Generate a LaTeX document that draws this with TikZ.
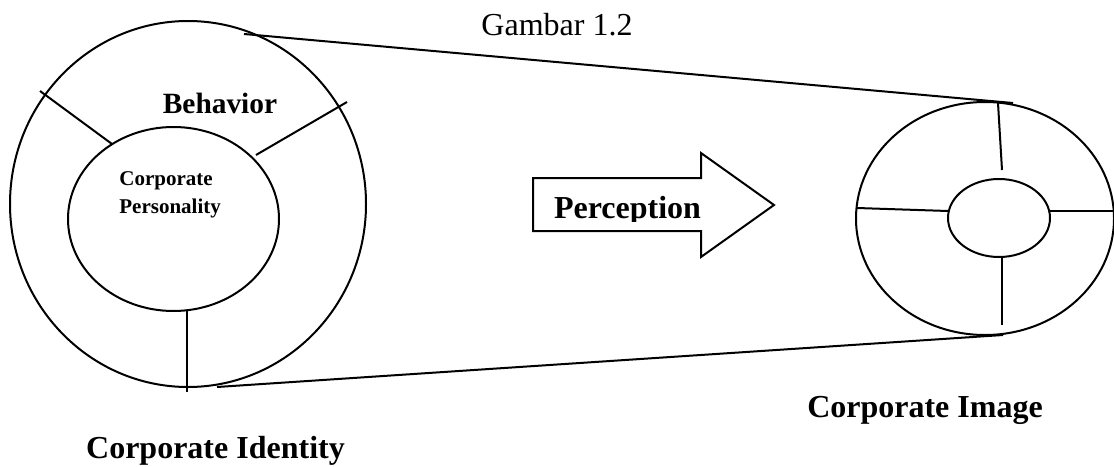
\documentclass[tikz,border=0pt]{standalone}
\usepackage{fontspec}
\setmainfont{Liberation Serif}
\usetikzlibrary{shapes.geometric}

\begin{document}
\begin{tikzpicture}[
    x=0.5pt, y=-0.5pt,
    ring/.style={ellipse, draw, line width=1pt, inner sep=0pt},
    part/.style={line width=1pt},
    label/.style={font=\fontsize{16}{19}\selectfont\bfseries, anchor=base}
]
    \useasboundingbox (0,0) rectangle (1114,466);

    % Identity
    \node[ring, minimum width=178pt, minimum height=183pt] (identity) at (188,204) {};
    \node[ring, minimum width=105.5pt, minimum height=92pt] (personality) at (173.5,219) {};
    \coordinate (p1) at (40,91);   \coordinate (q1) at (112,144);
    \coordinate (p2) at (347,102); \coordinate (q2) at (256,155);
    \coordinate (p3) at (187,392); \coordinate (q3) at (187,311);
    \draw[part] (p1) -- (q1);
    \draw[part] (p2) -- (q2);
    \draw[part] (p3) -- (q3);

    % Image
    \node[ring, minimum width=129pt, minimum height=116.5pt] (image) at (985,218.5) {};
    \node[ring, minimum width=51pt, minimum height=39pt] (core) at (999,218) {};
    \coordinate (r1) at (998,103);  \coordinate (s1) at (1002,170);
    \coordinate (r2) at (857,208);  \coordinate (s2) at (948,211);
    \coordinate (r3) at (1114,211); \coordinate (s3) at (1050,211);
    \coordinate (r4) at (1002,325); \coordinate (s4) at (1002,257);
    \draw[part] (r1) -- (s1);
    \draw[part] (r2) -- (s2);
    \draw[part] (r3) -- (s3);
    \draw[part] (r4) -- (s4);

    % Tangents
    \coordinate (t1) at (244,34);  \coordinate (u1) at (1013,103);
    \coordinate (t2) at (217,387); \coordinate (u2) at (1003,335);
    \draw[part] (t1) -- (u1);
    \draw[part] (t2) -- (u2);

    % Arrow
    \draw[part, fill=white] (533,178) -- (701,178) -- (701,153) -- (774,205)
        -- (701,257) -- (701,231) -- (533,231) -- cycle;
    \begin{scope}
        \clip (533,150) rectangle (774,221);
        \node[label] (perception) at (627.5,218) {Perception};
    \end{scope}

    % Labels
    \node[anchor=base, font=\fontsize{16}{19}\selectfont] (title) at (557,35) {Gambar 1.2};
    \node[label, font=\fontsize{14.7}{17}\selectfont\bfseries] (behavior) at (220,113) {Behavior};
    \node[anchor=base west, font=\fontsize{10.5}{14}\selectfont\bfseries, inner sep=0pt] (corp) at (119,185) {Corporate};
    \node[anchor=base west, font=\fontsize{10.5}{14}\selectfont\bfseries, inner sep=0pt] (pers) at (119,213) {Personality};
    \node[label] (identitytext) at (215.5,458) {Corporate Identity};
    \node[label] (imagetext) at (925,417) {Corporate Image};
\end{tikzpicture}
\end{document}
